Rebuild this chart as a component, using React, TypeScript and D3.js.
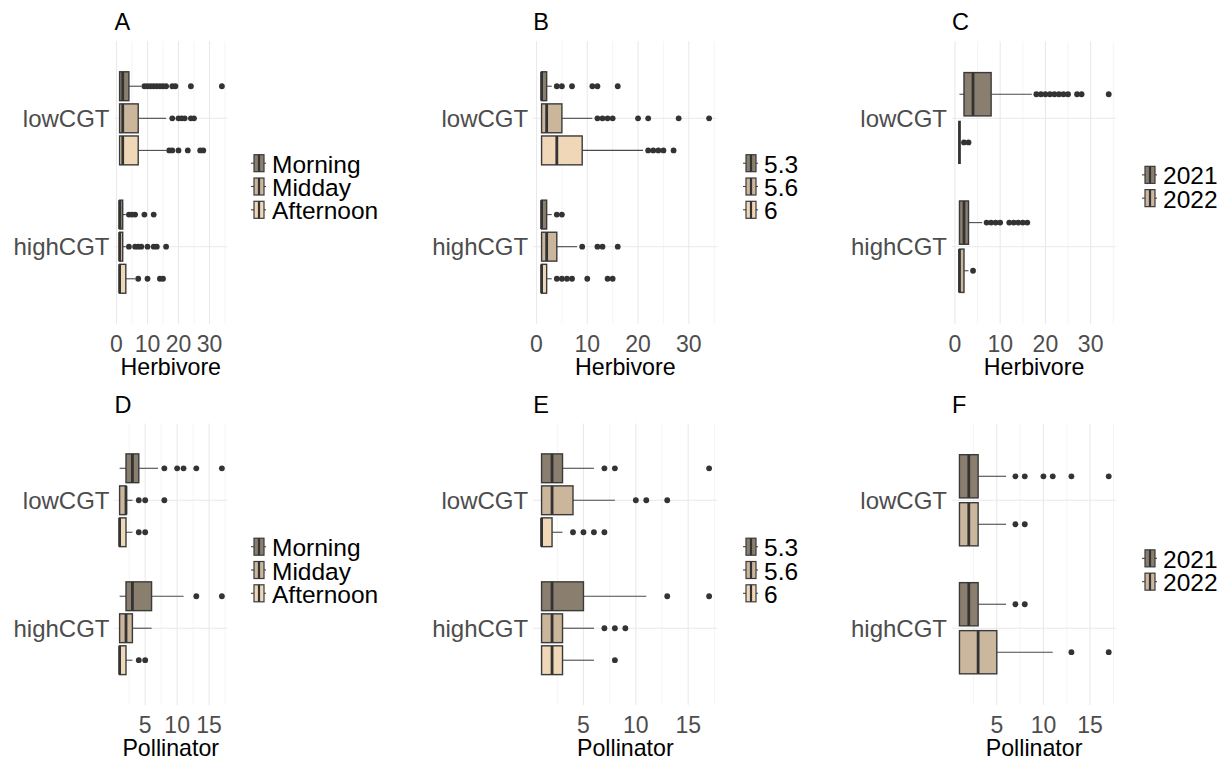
import React from "react";
import * as d3 from "d3";

const FONT = "'Liberation Sans', Arial, Helvetica, sans-serif";

const sites = ["lowCGT", "highCGT"];
const timeGroups = ["Morning", "Midday", "Afternoon"];
const phGroups = ["5.3", "5.6", "6"];
const yearGroups = ["2021", "2022"];

const timeColors = ["#8a7f6f", "#cbb59b", "#efd7b7"];
const phColors = ["#8a7f6f", "#cbb59b", "#efd7b7"];
const yearColors = ["#8a7f6f", "#cbb69e"];

// each row: [lower whisker, Q1, median, Q3, upper whisker]; lowCGT groups first, then highCGT
const herbTimeStats = [
  [1, 1, 2, 4, 8],
  [1, 1, 2, 7, 16],
  [1, 1, 2, 7, 16],
  [1, 1, 1, 2, 3],
  [1, 1, 1, 2, 3],
  [1, 1, 1, 3, 6],
];
const herbTimeOut = [
  [9, 10, 11, 12, 13, 14, 15, 16, 18, 19, 24, 34],
  [18, 20, 21, 22, 24, 25],
  [17, 18, 20, 23, 27, 28],
  [4, 5, 6, 9, 12],
  [4, 6, 7, 8, 10, 12, 13, 16],
  [7, 10, 14, 15],
];

const herbPhStats = [
  [1, 1, 1, 2, 3],
  [1, 1, 2, 5, 11],
  [1, 1, 4, 9, 21],
  [1, 1, 1, 2, 3],
  [1, 1, 2, 4, 8],
  [1, 1, 1, 2, 3],
];
const herbPhOut = [
  [4, 5, 7, 11, 12, 16],
  [12, 13, 14, 15, 20, 22, 28, 34],
  [22, 23, 24, 25, 27],
  [4, 5],
  [9, 12, 13, 16],
  [4, 5, 6, 7, 10, 14, 15],
];

const herbYearStats = [
  [1, 2, 4, 8, 17],
  [1, 1, 1, 1, 1],
  [1, 1, 2, 3, 6],
  [1, 1, 1, 2, 3],
];
const herbYearOut = [
  [18, 19, 20, 21, 22, 23, 24, 25, 27, 28, 34],
  [2, 3],
  [7, 8, 9, 10, 12, 13, 14, 15, 16],
  [4],
];

const pollTimeStats = [
  [1, 2, 3, 4, 7],
  [1, 1, 2, 2, 3],
  [1, 1, 1, 2, 3],
  [1, 2, 3, 6, 11],
  [1, 1, 2, 3, 6],
  [1, 1, 1, 2, 3],
];
const pollTimeOut = [
  [8, 10, 11, 13, 17],
  [4, 5, 8],
  [4, 5],
  [13, 17],
  [],
  [4, 5],
];

const pollPhStats = [
  [1, 1, 2, 3, 6],
  [1, 1, 2, 4, 8],
  [1, 1, 1, 2, 3],
  [1, 1, 2, 5, 11],
  [1, 1, 2, 3, 6],
  [1, 1, 2, 3, 6],
];
const pollPhOut = [
  [7, 8, 17],
  [10, 11, 13],
  [4, 5, 6, 7],
  [13, 17],
  [7, 8, 9],
  [8],
];

const pollYearStats = [
  [1, 1, 2, 3, 6],
  [1, 1, 2, 3, 6],
  [1, 1, 2, 3, 6],
  [1, 1, 3, 5, 11],
];
const pollYearOut = [
  [7, 8, 10, 11, 13, 17],
  [7, 8],
  [7, 8],
  [13, 17],
];

const herbTicks = [0, 10, 20, 30];
const herbMinor = [5, 15, 25, 35];
const pollTicks = [5, 10, 15];
const pollMinor = [2.5, 7.5, 12.5, 17.5];

const colX = [
  [114.5, 227],
  [533.2, 717.5],
  [952, 1116.2],
];
const rowY = [
  [41.3, 323.7],
  [423.5, 705],
];
const legendKeyX = [251, 743, 1142];
const legendMidY = [186.5, 570];

type PanelProps = {
  title: string;
  stats: number[][];
  outliers: number[][];
  groups: string[];
  colors: string[];
  xTitle: string;
  ticks: number[];
  minor: number[];
  col: number;
  row: number;
};

function BoxPanel({ title, stats, outliers, groups, colors, xTitle, ticks, minor, col, row }: PanelProps) {
  const [x0, x1] = colX[col];
  const [y0, y1] = rowY[row];
  const all = stats.flat().concat(outliers.flat());
  const lo = d3.min(all) as number;
  const hi = d3.max(all) as number;
  const pad = (hi - lo) * 0.05;
  const x = d3.scaleLinear().domain([lo - pad, hi + pad]).range([x0, x1]);
  const y = d3.scaleLinear().domain([-0.6, sites.length - 1 + 0.6]).range([y0, y1]);
  const n = groups.length;
  const slot = 0.75 / n;
  const half = (slot * 0.9) / 2;
  const inRange = (v: number) => v >= lo - pad && v <= hi + pad;

  const kx = legendKeyX[col];
  const ly = legendMidY[row];

  return (
    <g>
      <text x={x0} y={y0 - 11} fontSize={23.5} fill="#000">{title}</text>
      {minor.filter(inRange).map((m) => (
        <line key={"mi" + m} x1={x(m)} x2={x(m)} y1={y0} y2={y1} stroke="#f1f1f1" strokeWidth={0.8} />
      ))}
      {ticks.filter(inRange).map((t) => (
        <line key={"ma" + t} x1={x(t)} x2={x(t)} y1={y0} y2={y1} stroke="#e9e9e9" strokeWidth={1.1} />
      ))}
      {sites.map((s, i) => (
        <line key={"hs" + s} x1={x0} x2={x1} y1={y(i)} y2={y(i)} stroke="#e9e9e9" strokeWidth={1.1} />
      ))}
      {stats.map((st, r) => {
        const si = Math.floor(r / n);
        const gi = r % n;
        const c = si + (gi - (n - 1) / 2) * slot;
        const cy = y(c);
        const top = y(c - half);
        const bot = y(c + half);
        const [wl, q1, med, q3, wh] = st;
        return (
          <g key={"b" + r}>
            <line x1={x(wl)} x2={x(q1)} y1={cy} y2={cy} stroke="#4a4a4a" strokeWidth={1.1} />
            <line x1={x(q3)} x2={x(wh)} y1={cy} y2={cy} stroke="#4a4a4a" strokeWidth={1.1} />
            <rect x={x(q1)} y={top} width={Math.max(x(q3) - x(q1), 0)} height={bot - top}
              fill={colors[gi]} stroke="#3a3a3a" strokeWidth={1.4} />
            <line x1={x(med)} x2={x(med)} y1={top} y2={bot} stroke="#333" strokeWidth={2.8} />
            {outliers[r].map((o, k) => (
              <circle key={k} cx={x(o)} cy={cy} r={2.9} fill="#333" />
            ))}
          </g>
        );
      })}
      {sites.map((s, i) => (
        <text key={"yl" + s} x={x0 - 5} y={y(i)} textAnchor="end" dominantBaseline="central"
          fontSize={24} fill="#4d4d4d">{s}</text>
      ))}
      {ticks.filter(inRange).map((t) => (
        <text key={"tl" + t} x={x(t)} y={y1 + 28} textAnchor="middle" fontSize={23} fill="#4d4d4d">{t}</text>
      ))}
      <text x={(x0 + x1) / 2} y={y1 + 51} textAnchor="middle" fontSize={23.2} fill="#000">{xTitle}</text>
      {groups.map((g, k) => {
        const cy = ly + (k - (n - 1) / 2) * 23.3;
        return (
          <g key={"lg" + g}>
            <line x1={kx} x2={kx + 15} y1={cy} y2={cy} stroke="#444" strokeWidth={1.1} />
            <rect x={kx + 3} y={cy - 8.5} width={10} height={17} fill={colors[k]} stroke="#3a3a3a" strokeWidth={1.2} />
            <line x1={kx + 8} x2={kx + 8} y1={cy - 8.5} y2={cy + 8.5} stroke="#333" strokeWidth={2.2} />
            <text x={kx + 21} y={cy + 1} dominantBaseline="central" fontSize={24.5} fill="#000">{g}</text>
          </g>
        );
      })}
    </g>
  );
}

export default function App() {
  return (
    <svg width={1230} height={763} style={{ position: "absolute", left: 0, top: 0, background: "#fff" }}
      fontFamily={FONT}>
      <rect width={1230} height={763} fill="#fff" />
      <BoxPanel title="A" stats={herbTimeStats} outliers={herbTimeOut} groups={timeGroups} colors={timeColors}
        xTitle="Herbivore" ticks={herbTicks} minor={herbMinor} col={0} row={0} />
      <BoxPanel title="B" stats={herbPhStats} outliers={herbPhOut} groups={phGroups} colors={phColors}
        xTitle="Herbivore" ticks={herbTicks} minor={herbMinor} col={1} row={0} />
      <BoxPanel title="C" stats={herbYearStats} outliers={herbYearOut} groups={yearGroups} colors={yearColors}
        xTitle="Herbivore" ticks={herbTicks} minor={herbMinor} col={2} row={0} />
      <BoxPanel title="D" stats={pollTimeStats} outliers={pollTimeOut} groups={timeGroups} colors={timeColors}
        xTitle="Pollinator" ticks={pollTicks} minor={pollMinor} col={0} row={1} />
      <BoxPanel title="E" stats={pollPhStats} outliers={pollPhOut} groups={phGroups} colors={phColors}
        xTitle="Pollinator" ticks={pollTicks} minor={pollMinor} col={1} row={1} />
      <BoxPanel title="F" stats={pollYearStats} outliers={pollYearOut} groups={yearGroups} colors={yearColors}
        xTitle="Pollinator" ticks={pollTicks} minor={pollMinor} col={2} row={1} />
    </svg>
  );
}
